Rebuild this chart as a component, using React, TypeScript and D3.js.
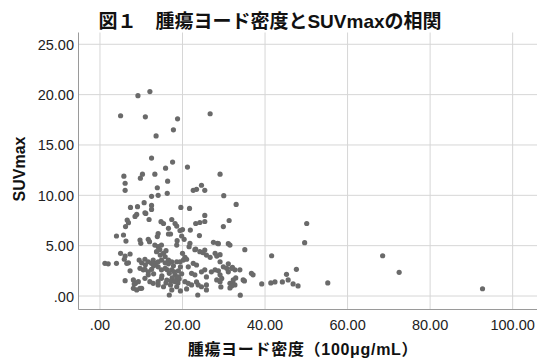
import React from "react";
import * as d3 from "d3";

const titleText = "図１　腫瘍ヨード密度とSUVmaxの相関";
const xTitle = "腫瘍ヨード密度（100μg/mL）";
const yTitle = "SUVmax";
const xTicks = [0, 20, 40, 60, 80, 100];
const yTicks = [0, 5, 10, 15, 20, 25];

// [iodine density, SUVmax]
const pointsHigh: [number, number][] = [
  [5.0, 17.9], [9.2, 19.9], [12.1, 20.3], [11.0, 17.8], [13.6, 15.9], [17.8, 16.5], [18.8, 17.6], [26.7, 18.1],
  [12.5, 13.7], [17.6, 13.3], [15.9, 12.7], [21.2, 12.8], [5.8, 11.9], [6.1, 11.2], [6.1, 10.5], [9.8, 11.7],
  [10.3, 12.1], [13.3, 12.1], [29.1, 12.1], [13.9, 10.75], [16.4, 11.4], [16.3, 10.2], [14.1, 10.0], [12.5, 9.9],
  [22.6, 10.5], [23.4, 10.6], [24.6, 11.0], [25.4, 10.5], [30.0, 9.96], [7.4, 8.8], [9.1, 8.87], [10.7, 9.27],
  [12.5, 9.0], [12.5, 8.6], [11.1, 8.2], [19.6, 8.8], [21.7, 8.7], [25.4, 8.0], [33.0, 9.1],
];
const pointsMid: [number, number][] = [
  [6.6, 7.55], [6.9, 7.28], [8.5, 7.9], [8.9, 8.1], [10.9, 8.27], [11.9, 7.6], [14.8, 7.38], [15.4, 7.2],
  [17.4, 7.6], [18.2, 7.2], [18.6, 6.95], [23.2, 7.2], [24.2, 7.3], [25.4, 7.4], [29.9, 6.9], [31.3, 7.5],
  [21.9, 6.55], [20.0, 6.6], [16.6, 6.72], [19.4, 6.5], [16.6, 6.16], [14.1, 6.2], [13.9, 5.9], [6.2, 6.9],
  [4.0, 5.96], [5.7, 6.06], [6.3, 5.46], [24.1, 6.0], [19.8, 5.96], [17.1, 6.16], [50.1, 7.2],
  [9.7, 5.56], [9.9, 5.23], [11.7, 5.63], [12.0, 5.4], [13.3, 5.06], [14.1, 4.9], [14.9, 5.06], [18.7, 5.5],
  [18.6, 5.06], [20.4, 5.63], [21.8, 5.23], [21.6, 4.9], [27.5, 5.33], [28.5, 5.23], [31.1, 5.2], [31.5, 5.06],
  [28.7, 5.2], [49.6, 5.3],
  [23.2, 4.67], [25.4, 4.57], [35.1, 4.6], [23.0, 4.6], [24.2, 4.4], [25.0, 4.3], [25.8, 4.07], [26.7, 3.84],
  [27.9, 4.24], [28.3, 3.97], [29.1, 4.1], [20.0, 4.24], [20.6, 3.84], [13.7, 4.4], [15.4, 4.24], [14.6, 4.07],
  [15.8, 3.9], [5.0, 4.24], [6.1, 3.97], [7.3, 4.17], [41.6, 4.0], [68.5, 4.0], [16.0, 4.5], [14.5, 4.6],
];
const pointsLow: [number, number][] = [
  [1.2, 3.25], [2.0, 3.2], [4.0, 3.25], [5.9, 3.65], [6.5, 3.25], [6.9, 3.3], [9.5, 3.57], [10.1, 3.3],
  [10.9, 3.65], [11.7, 3.4], [12.5, 3.25], [12.9, 3.57], [13.6, 3.25], [14.1, 3.4], [14.9, 3.57], [15.8, 3.3],
  [16.6, 3.57], [16.6, 3.2], [17.4, 3.4], [18.6, 3.4], [19.4, 3.4], [20.2, 3.57], [21.0, 3.65], [22.6, 3.25],
  [23.4, 3.08], [29.1, 3.4], [31.1, 3.2], [13.0, 3.0], [11.0, 3.1],
  [7.3, 2.5], [9.7, 2.75], [10.5, 2.6], [11.7, 2.4], [12.5, 2.65], [14.1, 2.9], [14.9, 2.6], [15.8, 2.75],
  [16.8, 2.25], [17.4, 2.6], [18.2, 2.1], [19.0, 2.5], [19.5, 2.9], [21.4, 2.9], [22.2, 2.25], [23.0, 2.1],
  [24.6, 2.4], [25.4, 2.6], [27.0, 2.4], [27.9, 2.6], [28.7, 2.5], [29.1, 2.1], [29.9, 2.9], [30.7, 2.75],
  [31.1, 2.4], [31.9, 2.75], [32.7, 2.6], [33.9, 2.6], [32.1, 2.85], [36.7, 2.25], [37.1, 2.1], [47.6, 2.65],
  [45.2, 2.15], [72.5, 2.35], [10.9, 2.65], [11.7, 2.1], [13.0, 2.2], [15.0, 2.0],
  [17.5, 1.8], [18.0, 2.4], [19.8, 2.2], [17.8, 3.0], [16.3, 2.6], [18.9, 1.3], [17.2, 1.5], [19.2, 1.7],
];
const pointsBottom: [number, number][] = [
  [6.1, 1.52], [8.1, 1.6], [8.6, 1.26], [9.3, 1.42], [10.9, 1.76], [12.1, 1.42], [12.9, 1.26], [14.1, 1.1],
  [14.9, 1.76], [16.2, 1.59], [14.1, 1.42], [17.1, 1.1], [18.6, 1.75], [18.2, 1.42], [20.6, 1.42], [21.4, 1.26],
  [22.2, 1.1], [23.4, 1.4], [23.8, 1.1], [25.8, 1.9], [25.8, 1.1], [28.3, 1.6], [29.1, 1.42], [29.5, 1.75],
  [31.5, 1.26], [32.3, 1.6], [32.7, 1.1], [32.9, 1.8], [32.2, 1.25], [31.9, 1.0], [34.7, 1.6], [35.0, 1.5],
  [39.2, 1.2], [41.4, 1.3], [42.4, 1.4], [44.2, 1.4], [45.6, 1.6], [46.8, 1.2], [48.0, 1.0], [55.2, 1.3],
  [8.3, 1.19], [19.0, 1.9], [16.0, 1.3],
  [8.1, 0.76], [8.9, 0.6], [9.7, 0.76], [10.1, 0.76], [15.4, 0.92], [17.4, 0.6], [18.6, 0.92], [24.6, 0.92],
  [25.8, 0.6], [29.3, 0.9], [31.5, 0.8], [16.8, 0.1], [23.7, 0.1], [34.0, 0.08], [92.7, 0.72], [19.5, 0.5],
  [21.0, 0.7],
];

const allPoints = [...pointsHigh, ...pointsMid, ...pointsLow, ...pointsBottom];

const W = 537;
const H = 359;
const left = 78.5;
const right = 537;
const top = 32.5;
const bottom = 309.5;

const fmt = (v: number) => (v === 0 ? ".00" : v.toFixed(2));
const FONT = "'Liberation Sans', Arial, 'Noto Sans CJK JP', sans-serif";

export default function App() {
  const x = d3.scaleLinear().domain([-5.2, 105.9]).range([left, right]);
  const y = d3.scaleLinear().domain([-1.34, 26.17]).range([bottom, top]);

  return (
    <svg width={W} height={H} style={{ position: "absolute", left: 0, top: 0, background: "#fff" }}>
      <rect x={0} y={0} width={W} height={H} fill="#fff" />
      {xTicks.map((t) => (
        <line key={"gx" + t} x1={x(t)} x2={x(t)} y1={top} y2={bottom} stroke="#d6d6d6" strokeWidth={1} />
      ))}
      {yTicks.map((t) => (
        <line key={"gy" + t} x1={left} x2={right} y1={y(t)} y2={y(t)} stroke="#d6d6d6" strokeWidth={1} />
      ))}
      <line x1={left} x2={left} y1={top} y2={bottom} stroke="#9a9a9a" strokeWidth={1} />
      <line x1={left} x2={right} y1={bottom} y2={bottom} stroke="#9a9a9a" strokeWidth={1} />
      {allPoints.map((p, i) => (
        <circle key={i} cx={x(p[0])} cy={y(p[1])} r={2.6} fill="#6a6a6a" />
      ))}
      {yTicks.map((t) => (
        <text key={"ly" + t} x={74} y={y(t) + 5.5} textAnchor="end" fontFamily={FONT} fontSize={14.5} fill="#222">
          {fmt(t)}
        </text>
      ))}
      {xTicks.map((t) => (
        <text key={"lx" + t} x={x(t)} y={330} textAnchor="middle" fontFamily={FONT} fontSize={14.5} fill="#222">
          {fmt(t)}
        </text>
      ))}
      <text x={270} y={28} textAnchor="middle" fontFamily={FONT} fontSize={19} fontWeight="bold" fill="#111">
        {titleText}
      </text>
      <text x={303} y={355} textAnchor="middle" fontFamily={FONT} fontSize={16} fontWeight="bold" fill="#111" letterSpacing={0.7}>
        {xTitle}
      </text>
      <text
        transform={`translate(25,169) rotate(-90)`}
        textAnchor="middle"
        fontFamily={FONT}
        fontSize={16}
        fontWeight="bold"
        fill="#111"
      >
        {yTitle}
      </text>
    </svg>
  );
}
